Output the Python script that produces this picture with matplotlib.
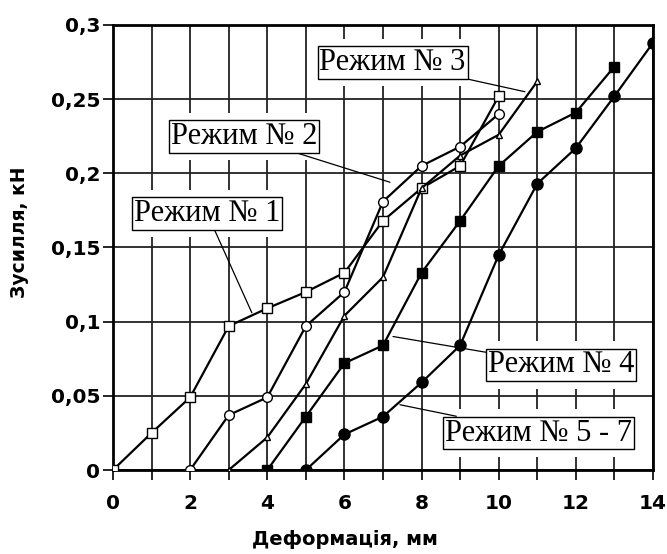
import matplotlib
matplotlib.use("Agg")
import matplotlib.pyplot as plt

# data
x1 = [0, 1, 2, 3, 4, 5, 6, 7, 8, 9, 10]
y1 = [0, 0.025, 0.049, 0.097, 0.109, 0.120, 0.133, 0.168, 0.190, 0.205, 0.252]

x2 = [2, 3, 4, 5, 6, 7, 8, 9, 10]
y2 = [0, 0.037, 0.049, 0.097, 0.120, 0.181, 0.205, 0.218, 0.240]

x3 = [3, 4, 5, 6, 7, 8, 9, 10, 11]
y3 = [0, 0.022, 0.058, 0.104, 0.130, 0.190, 0.212, 0.226, 0.262]

x4 = [4, 5, 6, 7, 8, 9, 10, 11, 12, 13]
y4 = [0, 0.036, 0.072, 0.084, 0.133, 0.168, 0.205, 0.228, 0.241, 0.272]

x5 = [5, 6, 7, 8, 9, 10, 11, 12, 13, 14]
y5 = [0, 0.024, 0.036, 0.059, 0.084, 0.145, 0.193, 0.217, 0.252, 0.288]

labels = ["Режим № 1", "Режим № 2", "Режим № 3", "Режим № 4", "Режим № 5 - 7"]
label_pos = [(2.44, 0.173), (3.39, 0.225), (7.25, 0.2747), (11.62, 0.0708), (11.04, 0.0249)]
label_tip = [(3.60, 0.106), (7.18, 0.194), (10.68, 0.255), (7.26, 0.090), (7.44, 0.044)]

xticks = list(range(0, 15))
xticklabels = [str(v) if v % 2 == 0 else "" for v in xticks]
yticks = [0, 0.05, 0.1, 0.15, 0.2, 0.25, 0.3]
yticklabels = ["0", "0,05", "0,1", "0,15", "0,2", "0,25", "0,3"]

fig = plt.figure(figsize=(6.67, 5.54), dpi=100)
ax = fig.add_axes([0.1694, 0.1516, 0.8096, 0.8033])

ax.plot(x1, y1, color="black", lw=1.6, marker="s", ms=7, mfc="white", mec="black", mew=1, zorder=3)
ax.plot(x2, y2, color="black", lw=1.6, marker="o", ms=7, mfc="white", mec="black", mew=1, zorder=3)
ax.plot(x3, y3, color="black", lw=1.6, marker="^", ms=5, mfc="white", mec="black", mew=1, zorder=3)
ax.plot(x4, y4, color="black", lw=1.6, marker="s", ms=7, mfc="black", mec="black", zorder=3)
ax.plot(x5, y5, color="black", lw=1.6, marker="o", ms=8, mfc="black", mec="black", zorder=3)

ax.set_xlim(0, 14)
ax.set_ylim(0, 0.3)
ax.set_xticks(xticks)
ax.set_xticklabels(xticklabels)
ax.set_yticks(yticks)
ax.set_yticklabels(yticklabels)
ax.tick_params(direction="out", length=7, width=1.2, labelsize=14.5)
ax.tick_params(axis="x", pad=10)
ax.tick_params(axis="y", pad=2)
for t in ax.get_xticklabels() + ax.get_yticklabels():
    t.set_fontweight("bold")
ax.grid(True, color="#222222", lw=1.3)
ax.set_axisbelow(True)
for s in ax.spines.values():
    s.set_linewidth(2)

ax.set_xlabel("Деформація, мм", fontsize=14, fontweight="bold")
ax.xaxis.set_label_coords(0.43, -0.135)
ax.set_ylabel("Зусилля, кН", fontsize=13.5, fontweight="bold")
ax.yaxis.set_label_coords(-0.155, 0.535)

for lab, pos, tip in zip(labels, label_pos, label_tip):
    # white gap around the box that hides the grid
    ax.text(pos[0], pos[1], lab, fontsize=22, family="Liberation Serif", ha="center", va="center",
            color="white", zorder=4,
            bbox=dict(boxstyle="square,pad=0.3", fc="white", ec="none"))
    ax.annotate(lab, xy=tip, xytext=pos, fontsize=22, family="Liberation Serif",
                ha="center", va="center", zorder=5,
                bbox=dict(boxstyle="square,pad=0.06", fc="white", ec="black", lw=1),
                arrowprops=dict(arrowstyle="-", color="black", lw=0.9, shrinkA=0, shrinkB=0))

fig.savefig("out.png", dpi=100)
